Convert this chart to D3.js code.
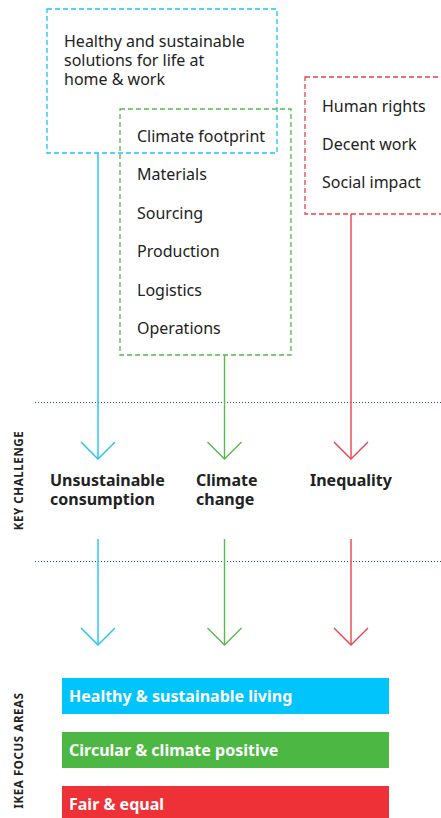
<!DOCTYPE html>
<html>
<head>
<meta charset="utf-8">
<script src="https://cdn.jsdelivr.net/npm/d3@7"></script>
<style>
  html, body { margin: 0; padding: 0; background: #fff; }
  svg { display: block; font-family: "Noto Sans", "Open Sans", sans-serif; }
</style>
</head>
<body>
<svg id="chart" width="441" height="818"></svg>
<script>
// ---- data ----
const challenges = ['Unsustainable consumption', 'Climate change', 'Inequality'];
const challengeLines = [['Unsustainable', 'consumption'], ['Climate', 'change'], ['Inequality']];
const colours = ['#1ec3f4', '#56b94c', '#e8424a'];
const livingDrivers = ['Healthy and sustainable', 'solutions for life at', 'home & work'];
const climateDrivers = ['Climate footprint', 'Materials', 'Sourcing', 'Production', 'Logistics', 'Operations'];
const socialDrivers = ['Human rights', 'Decent work', 'Social impact'];
const focusAreas = ['Healthy & sustainable living', 'Circular & climate positive', 'Fair & equal'];
const focusColours = ['#00c4fb', '#4cb843', '#ee3136'];
const sideLabels = ['KEY CHALLENGE', 'IKEA FOCUS AREAS'];

const W = 441, H = 818;
const svg = d3.select('#chart');
const TEXT = '#222';

// column positions for the three flows
const x = d3.scalePoint().domain(challenges).range([98, 351]);

// ---- driver boxes (dashed) ----
function box(x0, y0, x1, y1, col) {
  svg.append('rect').attr('x', x0).attr('y', y0).attr('width', x1 - x0).attr('height', y1 - y0)
    .attr('fill', 'none').attr('stroke', col).attr('stroke-width', 1.3).attr('stroke-dasharray', '5,3');
}
box(47, 9, 277, 153, colours[0]);
box(120, 109, 291, 355, colours[1]);
box(305, 77, 446, 214, colours[2]);

svg.append('g').selectAll('text').data(livingDrivers).enter().append('text')
  .attr('x', 64).attr('y', (d, i) => 47 + i * 18.8)
  .attr('font-size', '16px').attr('fill', TEXT).text(d => d);

const yClimate = d3.scaleLinear().domain([0, climateDrivers.length - 1]).range([141.7, 334]);
svg.append('g').selectAll('text').data(climateDrivers).enter().append('text')
  .attr('x', 137).attr('y', (d, i) => yClimate(i))
  .attr('font-size', '16px').attr('fill', TEXT).text(d => d);

const ySocial = d3.scaleLinear().domain([0, socialDrivers.length - 1]).range([111.7, 188.3]);
svg.append('g').selectAll('text').data(socialDrivers).enter().append('text')
  .attr('x', 322).attr('y', (d, i) => ySocial(i))
  .attr('font-size', '16px').attr('fill', TEXT).text(d => d);

// ---- dotted separators ----
[402.5, 561.5].forEach(y => {
  svg.append('line').attr('x1', 35).attr('x2', W).attr('y1', y).attr('y2', y)
    .attr('stroke', '#1d5566').attr('stroke-width', 1).attr('stroke-dasharray', '1,2');
});

// ---- arrows ----
function arrow(cx, y0, y1, col) {
  const g = svg.append('g').attr('stroke', col).attr('fill', 'none').attr('stroke-width', 1.4);
  g.append('line').attr('x1', cx).attr('x2', cx).attr('y1', y0).attr('y2', y1);
  g.append('path').attr('d', `M${cx - 17},${y1 - 17}L${cx},${y1}L${cx + 17},${y1 - 17}`);
}
const arrowStarts = [153, 355, 214];
challenges.forEach((c, i) => {
  arrow(x(c), arrowStarts[i], 459, colours[i]);
  arrow(x(c), 539, 645, colours[i]);
});

// ---- challenge labels ----
const labelX = [50, 196, 310];
challengeLines.forEach((lines, i) => {
  const t = svg.append('text').attr('x', labelX[i]).attr('y', 486)
    .attr('font-size', '16px').attr('font-weight', 700).attr('fill', TEXT);
  lines.forEach((l, j) => t.append('tspan').attr('x', labelX[i]).attr('dy', j ? 18.5 : 0).text(l));
});

// ---- focus area bars ----
const yBar = d3.scaleBand().domain(focusAreas).range([678, 822]).paddingInner(0.333);
const bars = svg.append('g').selectAll('g').data(focusAreas).enter().append('g');
bars.append('rect').attr('x', 62).attr('y', d => yBar(d))
  .attr('width', 389 - 62).attr('height', yBar.bandwidth())
  .attr('fill', (d, i) => focusColours[i]);
bars.append('text').attr('x', 69).attr('y', d => yBar(d) + yBar.bandwidth() / 2)
  .attr('dy', '0.35em').attr('font-size', '16px').attr('font-weight', 700)
  .attr('fill', '#fff').text(d => d);

// ---- rotated side labels ----
const sideY = [480.5, 750.5];
sideLabels.forEach((s, i) => {
  svg.append('text').attr('transform', `translate(22.5,${sideY[i]}) rotate(-90)`)
    .attr('text-anchor', 'middle').attr('font-size', '11.5px').attr('font-weight', 700)
    .attr('letter-spacing', '0.6px').attr('fill', TEXT).text(s);
});
</script>
</body>
</html>
